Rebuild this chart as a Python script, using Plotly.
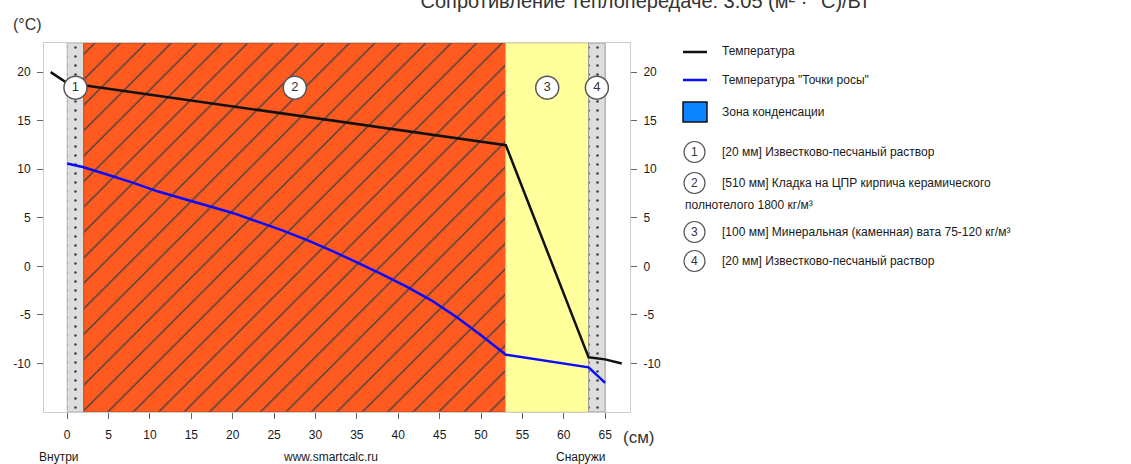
import plotly.graph_objects as go

# ---- data -------------------------------------------------------------
# wall layers: boundaries along the wall section (cm), inside -> outside
layer_left = [0, 2, 53, 63]
layer_right = [2, 53, 63, 65]
layer_no = ["1", "2", "3", "4"]
layer_names = [
    "[20 мм] Известково-песчаный раствор",
    "[510 мм] Кладка на ЦПР кирпича керамического",
    "[100 мм] Минеральная (каменная) вата 75-120 кг/м³",
    "[20 мм] Известково-песчаный раствор",
]
layer_name_tail = ["", "полнотелого 1800 кг/м³", "", ""]

# temperature through the wall (°C)
temp_x = [-2, 0, 2, 53, 63, 65, 67]
temp_y = [20.0, 18.87, 18.66, 12.47, -9.37, -9.58, -10.0]

# dew point temperature through the wall (°C)
dew_x = [0, 2, 5, 8, 11, 14, 17, 20, 23, 26, 29, 32, 35, 38, 41, 44, 47, 50, 53, 63, 65]
dew_y = [10.6, 10.2, 9.4, 8.6, 7.7, 6.95, 6.2, 5.5, 4.6, 3.7, 2.7, 1.6, 0.4, -0.8,
         -2.1, -3.5, -5.2, -7.1, -9.1, -10.4, -12.0]

x_ticks = list(range(0, 66, 5))
y_ticks = [20, 15, 10, 5, 0, -5, -10]
y_tick_text = [str(v) for v in y_ticks]
X_RANGE = [-2.8, 68]
Y_RANGE = [-15, 23]
LABEL_Y = 18.4
R_VALUE = "3.05"

# ---- styling ------------------------------------------------------------
FONT = "Liberation Sans, Arial, sans-serif"
TXT = "#1a1a1a"
layer_colors = ["#dddddd", "#ff5a1f", "#ffff9c", "#dddddd"]
layer_patterns = [".", "/", "", "."]
pattern_fg = ["#b3b3b3", "#8a3413", "#ffff9c", "#b3b3b3"]
pattern_size = [9, 18, 10, 9]
pattern_solid = [0.07, 0.08, 0.1, 0.07]
edge_colors = ["#b5b5b5", "#c0501c", "#e0e080", "#9a9a9a"]

W, H = 1131, 464
L, R, T, B = 44, 501, 43, 52
PW, PH = W - L - R, H - T - B


def px_x(px):
    return (px - L) / PW


def px_y(py):
    return (H - B - py) / PH


centers = [(a + b) / 2 for a, b in zip(layer_left, layer_right)]
widths = [b - a for a, b in zip(layer_left, layer_right)]

fig = go.Figure()

# wall layers as full-height bars
fig.add_trace(go.Bar(
    x=centers, width=widths,
    y=[Y_RANGE[1] - Y_RANGE[0]] * len(centers), base=Y_RANGE[0],
    marker=dict(
        color=layer_colors,
        line=dict(color=edge_colors, width=1),
        pattern=dict(shape=layer_patterns, fgcolor=pattern_fg, size=pattern_size,
                     solidity=pattern_solid, fillmode="overlay", fgopacity=1),
    ),
    hoverinfo="skip", showlegend=False,
))

fig.add_trace(go.Scatter(x=temp_x, y=temp_y, mode="lines",
                         line=dict(color="#111111", width=2.5), showlegend=False))
fig.add_trace(go.Scatter(x=dew_x, y=dew_y, mode="lines",
                         line=dict(color="#0a0aff", width=2.5), showlegend=False))

# numbered layer markers
fig.add_trace(go.Scatter(
    x=centers, y=[LABEL_Y] * len(centers), mode="markers+text",
    text=layer_no, textposition="middle center",
    textfont=dict(family=FONT, size=13, color="#333333"),
    marker=dict(size=23, color="white", line=dict(color="#555555", width=1.5)),
    showlegend=False,
))

# carrier trace for the right-hand axis
fig.add_trace(go.Scatter(x=[X_RANGE[0]], y=[Y_RANGE[0]], yaxis="y2", mode="markers",
                         marker=dict(opacity=0), showlegend=False, hoverinfo="skip"))

tickfont = dict(family=FONT, size=12, color=TXT)
fig.update_layout(
    width=W, height=H,
    margin=dict(l=L, r=R, t=T, b=B),
    paper_bgcolor="white", plot_bgcolor="white",
    barmode="overlay",
    showlegend=False,
    title=dict(text=f"Сопротивление теплопередаче: {R_VALUE} (м² · °С)/Вт",
               x=645 / W, xanchor="center", y=1 - 1 / H, yanchor="middle",
               yref="container", font=dict(family=FONT, size=20, color="#333333")),
    xaxis=dict(range=X_RANGE, tickvals=x_ticks, showgrid=False, zeroline=False,
               showline=True, mirror=True, linecolor="#cccccc", linewidth=1,
               ticks="outside", ticklen=6, tickcolor="#666666",
               tickfont=tickfont, ticklabelstandoff=6),
    yaxis=dict(range=Y_RANGE, tickvals=y_ticks, ticktext=y_tick_text,
               showgrid=False, zeroline=False,
               showline=True, mirror=True, linecolor="#cccccc", linewidth=1,
               ticks="outside", ticklen=6, tickcolor="#666666",
               tickfont=tickfont, ticklabelstandoff=4),
    yaxis2=dict(range=Y_RANGE, tickvals=y_ticks, ticktext=y_tick_text,
                overlaying="y", side="right",
                showgrid=False, zeroline=False, showline=False,
                ticks="outside", ticklen=6, tickcolor="#666666",
                tickfont=tickfont, ticklabelstandoff=4),
)

ann = []
shapes = []


def text(px, py, s, size=12, anchor="left", color=TXT):
    ann.append(dict(x=px_x(px), y=px_y(py), xref="paper", yref="paper", text=s,
                    showarrow=False, xanchor=anchor, yanchor="middle",
                    font=dict(family=FONT, size=size, color=color)))


# axis captions
text(11, 24, "(°C)", size=16, color="#333333")
text(621, 437, "(см)", size=17, color="#333333")
text(37, 457, "Внутри")
text(330, 457, "www.smartcalc.ru", anchor="center")
text(554, 457, "Снаружи")

# legend
LX0, LX1, TX = 683, 707, 720
shapes.append(dict(type="line", xref="paper", yref="paper", x0=px_x(LX0), x1=px_x(LX1),
                   y0=px_y(52), y1=px_y(52), line=dict(color="#111111", width=2.5)))
text(TX, 51, "Температура")
shapes.append(dict(type="line", xref="paper", yref="paper", x0=px_x(LX0), x1=px_x(LX1),
                   y0=px_y(80), y1=px_y(80), line=dict(color="#0a0aff", width=2.5)))
text(TX, 80, "Температура \"Точки росы\"")
shapes.append(dict(type="rect", xref="paper", yref="paper", x0=px_x(LX0), x1=px_x(LX1),
                   y0=px_y(122), y1=px_y(102), fillcolor="#0a84ff",
                   line=dict(color="#111111", width=1.5)))
text(TX, 112, "Зона конденсации")

rows = [152, 183, 232, 261]
for no, name, tail, ry in zip(layer_no, layer_names, layer_name_tail, rows):
    shapes.append(dict(type="circle", xref="paper", yref="paper",
                       x0=px_x(684), x1=px_x(705), y0=px_y(ry + 10.5), y1=px_y(ry - 10.5),
                       fillcolor="white", line=dict(color="#555555", width=1.2)))
    text(694.5, ry, no, size=12, anchor="center", color="#333333")
    text(TX, ry, name)
    if tail:
        text(LX0, ry + 22, tail)

fig.update_layout(annotations=ann, shapes=shapes)

fig.write_html("out.html")
